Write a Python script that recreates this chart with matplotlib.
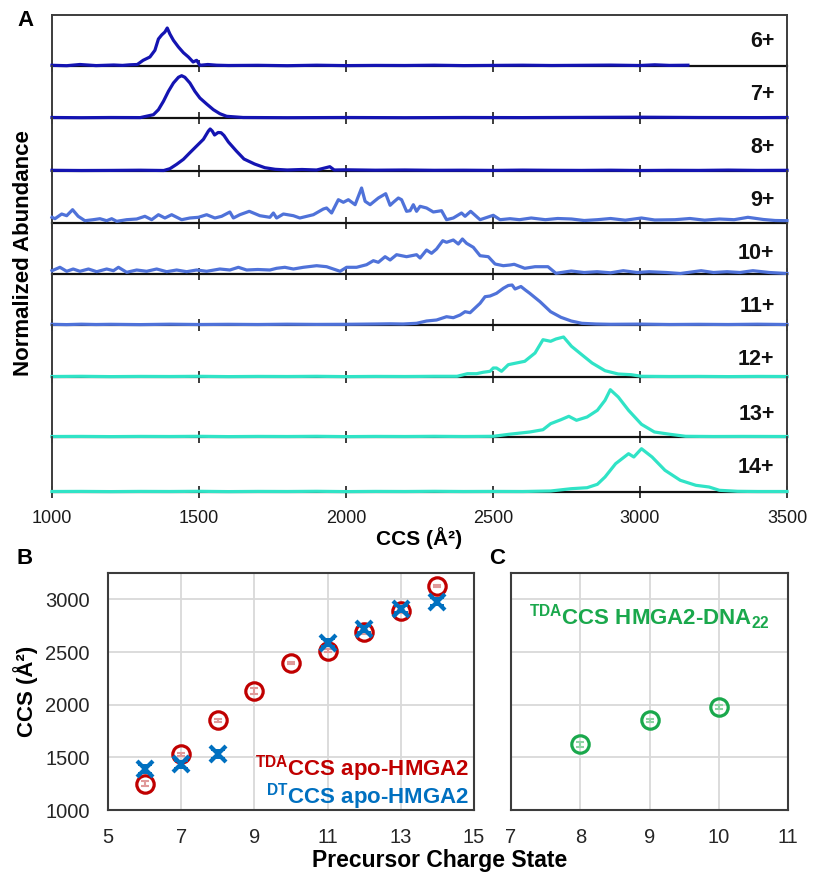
import matplotlib
matplotlib.use("Agg")
import matplotlib.pyplot as plt
import numpy as np

plt.rcParams['font.family'] = ['Liberation Sans', 'DejaVu Sans']
plt.rcParams['mathtext.fontset'] = 'custom'
plt.rcParams['mathtext.rm'] = 'Liberation Sans'
plt.rcParams['mathtext.bf'] = 'Liberation Sans:bold'

# ---------------- Panel A data (CCS in A^2, abundance in arbitrary read units) ----------------
charge_labels = ['6+', '7+', '8+', '9+', '10+', '11+', '12+', '13+', '14+']

ccs_6 = [1000, 1050, 1095, 1150, 1210, 1240, 1265, 1290, 1310, 1333, 1350, 1362, 1373, 1384, 1392, 1401,
         1413, 1430, 1447, 1464, 1480, 1492, 1503, 1530, 1560, 1600, 1700, 1800, 1900, 2000, 2100, 2200,
         2300, 2400, 2500, 2600, 2700, 2800, 2900, 3000, 3050, 3100, 3163]
ab_6 = [0.7, 0.3, 1.5, 0.4, 1.0, 0.6, 1.2, 1.5, 5.7, 9, 15.7, 27, 31, 34, 38, 32,
        25.7, 19, 13.3, 9, 4, 5.7, 0.7, 1.5, 0.8, 0.5, 0.7, 0.3, 0.8, 0.4, 0.6, 0.5,
        0.8, 0.4, 0.6, 0.8, 0.5, 0.7, 0.9, 0.5, 1.2, 0.6, 0.8]

ccs_7 = [1000, 1100, 1200, 1300, 1345, 1362, 1379, 1396, 1413, 1430, 1441, 1452, 1469, 1486, 1503, 1526,
         1549, 1571, 1594, 1650, 1800, 2000, 2200, 2400, 2600, 2800, 3000, 3200, 3400, 3500]
ab_7 = [0.5, 0.3, 0.5, 0.4, 3.3, 8.3, 16.7, 26.7, 35, 40.7, 42.3, 40.7, 35, 26.7, 20, 14,
        8.3, 4.3, 1.7, 0.5, 0.3, 0.5, 0.3, 0.5, 0.4, 0.6, 0.8, 0.5, 0.4, 0.5]

ccs_8 = [1000, 1100, 1200, 1300, 1380, 1401, 1424, 1447, 1469, 1492, 1515, 1532, 1538, 1545, 1553, 1565,
         1575, 1585, 1600, 1627, 1653, 1689, 1724, 1759, 1800, 1850, 1900, 1945, 1960, 2000, 2100, 2200,
         2300, 2400, 2500, 2600, 2700, 2800, 2900, 3000, 3100, 3200, 3300, 3400, 3500]
ab_8 = [0.7, 0.5, 0.6, 0.8, 0.5, 2.3, 6.7, 11.7, 18.3, 25, 31.7, 40, 42, 40, 36, 38.5,
        38.3, 35.5, 29, 20, 12, 7, 3.3, 1.7, 1, 1.5, 1, 4.3, 1, 1.2, 0.8, 1,
        0.7, 0.8, 0.6, 0.9, 0.7, 0.6, 0.8, 0.5, 0.7, 0.6, 0.9, 0.6, 0.7]

ccs_9 = [1000, 1010, 1033, 1050, 1070, 1089, 1112, 1140, 1163, 1186, 1203, 1220, 1254, 1288, 1316, 1339,
         1362, 1384, 1407, 1441, 1469, 1498, 1526, 1554, 1577, 1605, 1617, 1639, 1671, 1707, 1741, 1753,
         1764, 1787, 1821, 1843, 1889, 1923, 1934, 1951, 1974, 1991, 2008, 2031, 2053, 2065, 2082, 2110,
         2135, 2150, 2161, 2178, 2189, 2206, 2218, 2229, 2240, 2252, 2274, 2297, 2325, 2342, 2365, 2393,
         2405, 2424, 2456, 2501, 2524, 2558, 2590, 2630, 2678, 2720, 2767, 2810, 2855, 2900, 2950, 3005,
         3050, 3119, 3170, 3220, 3270, 3320, 3367, 3420, 3460, 3500]
ab_9 = [5.7, 4.3, 9, 7.3, 13.3, 6.7, 2.3, 3.3, 4.3, 2.3, 4.3, 1.7, 3.3, 4, 6.7, 3.3,
        8.3, 5, 8.3, 3.3, 5, 5.7, 8.3, 5, 6.7, 11, 5, 8.3, 11.7, 7.3, 5.7, 10,
        5, 9, 7.3, 5, 8.3, 14, 15, 10, 23.3, 20.7, 23.3, 18.3, 35, 21.7, 18.3, 25,
        29.3, 17.7, 20.7, 25, 23.3, 11.7, 12.3, 18.3, 11.7, 16.7, 15, 11, 12.3, 3.3, 5, 10,
        6.7, 11.7, 3.3, 7.7, 3.3, 4.3, 3.3, 5, 3.3, 4.5, 4, 2.5, 3.3, 4.5, 2.8, 5,
        3, 3.3, 4.5, 2.8, 4, 3.3, 5.7, 3.5, 2.5, 2.3]

ccs_10 = [1000, 1027, 1050, 1072, 1095, 1124, 1152, 1186, 1209, 1226, 1254, 1288, 1322, 1356, 1390, 1424,
          1458, 1492, 1526, 1571, 1605, 1634, 1662, 1700, 1741, 1764, 1792, 1821, 1855, 1900, 1934, 1980,
          2002, 2036, 2070, 2093, 2110, 2133, 2150, 2172, 2206, 2240, 2252, 2274, 2291, 2308, 2329, 2342,
          2365, 2382, 2396, 2410, 2433, 2456, 2484, 2507, 2535, 2558, 2572, 2608, 2643, 2687, 2714, 2766,
          2810, 2854, 2900, 2943, 2990, 3031, 3090, 3137, 3208, 3250, 3296, 3340, 3384, 3440, 3500]
ab_10 = [3.3, 6.7, 2.7, 5, 2.7, 5, 2.3, 5, 3.3, 6.7, 1.7, 4, 2.7, 5, 2.3, 4,
         2.3, 4, 2.7, 5, 4, 6.7, 4, 4.5, 4, 5.7, 6.7, 5, 6.7, 8.3, 7.3, 2.7,
         6.7, 6.7, 9.3, 13.3, 11.7, 17.3, 14, 19.3, 17.3, 19.3, 16, 24, 20.7, 25, 33.3, 31.7,
         34, 30, 35, 30.7, 26.7, 18.3, 17.3, 10, 8.3, 9, 9.7, 5.7, 7.3, 7.3, 0.7, 3,
         1.5, 2.3, 1.2, 3.3, 1.5, 2.3, 1.5, 0.5, 3.3, 1.5, 2.3, 1.5, 3.3, 1.5, 0.5]

ccs_11 = [1000, 1050, 1100, 1150, 1200, 1300, 1400, 1500, 1600, 1700, 1800, 1900, 2000, 2100, 2150, 2194,
          2240, 2274, 2308, 2342, 2365, 2388, 2405, 2422, 2456, 2473, 2490, 2512, 2535, 2552, 2565, 2575,
          2595, 2610, 2625, 2660, 2696, 2731, 2766, 2802, 2850, 2900, 3000, 3100, 3200, 3300, 3400, 3500]
ab_11 = [0.7, 0.4, 0.8, 0.5, 0.7, 0.4, 0.8, 0.5, 0.7, 0.5, 0.8, 0.6, 0.7, 1.0, 1.2, 1,
         1.7, 4, 5, 8.3, 7.3, 10, 13.3, 12.3, 21.7, 28.3, 29, 31.7, 36.7, 39.5, 40, 36,
         38.5, 35, 31.7, 23.3, 13.3, 7.7, 4, 1.7, 1, 0.7, 0.9, 0.5, 0.7, 0.5, 0.8, 0.5]

ccs_12 = [1000, 1100, 1200, 1300, 1400, 1500, 1600, 1700, 1800, 1900, 2000, 2100, 2200, 2300, 2378, 2413,
          2444, 2466, 2490, 2501, 2512, 2529, 2552, 2563, 2608, 2643, 2670, 2696, 2714, 2740, 2767, 2802,
          2837, 2881, 2926, 2970, 3005, 3100, 3200, 3300, 3400, 3500]
ab_12 = [0.5, 0.7, 0.4, 0.6, 0.5, 0.7, 0.4, 0.6, 0.5, 0.7, 0.4, 0.6, 0.5, 0.7, 0.7, 3.3,
         3.3, 4.7, 5.7, 9, 9, 5.7, 12.3, 13, 15.7, 24, 37.3, 35.7, 38, 40, 30.7, 22.3,
         14, 6.3, 3, 2.3, 0.7, 0.5, 0.6, 0.4, 0.6, 0.5]

ccs_13 = [1000, 1100, 1200, 1300, 1400, 1500, 1600, 1700, 1800, 1900, 2000, 2100, 2200, 2300, 2400, 2501,
          2554, 2625, 2670, 2696, 2731, 2758, 2784, 2820, 2855, 2881, 2899, 2926, 2961, 3005, 3049, 3102,
          3155, 3250, 3350, 3500]
ab_13 = [0.5, 0.6, 0.4, 0.6, 0.5, 0.7, 0.4, 0.6, 0.5, 0.7, 0.4, 0.6, 0.5, 0.7, 0.5, 0.7,
         2.7, 5, 7.3, 13.3, 17.3, 20.7, 16.7, 20, 26.7, 36.7, 47.3, 40, 26.7, 12.7, 5, 2.7,
         0.7, 0.5, 0.6, 0.5]

ccs_14 = [1000, 1100, 1200, 1300, 1400, 1500, 1600, 1700, 1800, 1900, 2000, 2100, 2200, 2300, 2400, 2500,
          2600, 2696, 2766, 2820, 2855, 2881, 2917, 2961, 2979, 3005, 3041, 3085, 3137, 3190, 3235, 3270,
          3332, 3400, 3500]
ab_14 = [0.5, 0.6, 0.4, 0.6, 0.5, 0.7, 0.4, 0.6, 0.5, 0.7, 0.4, 0.6, 0.5, 0.7, 0.5, 0.6,
         0.5, 1, 3.3, 4.3, 7.7, 15, 28.3, 38.3, 35, 43.3, 35, 21.7, 11.7, 6.7, 5, 1.7,
         0.7, 0.5, 0.5]

spectra_ccs = [ccs_6, ccs_7, ccs_8, ccs_9, ccs_10, ccs_11, ccs_12, ccs_13, ccs_14]
spectra_ab = [ab_6, ab_7, ab_8, ab_9, ab_10, ab_11, ab_12, ab_13, ab_14]
a_xticks = [1000, 1500, 2000, 2500, 3000, 3500]

# ---------------- Panel B / C data ----------------
tda_z = [6, 7, 8, 9, 10, 11, 12, 13, 14]
tda_ccs = [1250, 1530, 1850, 2130, 2395, 2512, 2690, 2885, 3128]
tda_err = [25, 15, 10, 25, 10, 15, 15, 10, 10]

dt_z = [6, 7, 8, 11, 12, 13, 14]
dt_ccs = [1388, 1433, 1530, 2590, 2720, 2910, 2978]
dt_err = [40, 35, 35, 30, 30, 30, 30]

dna_z = [8, 9, 10]
dna_ccs = [1625, 1850, 1976]
dna_err = [25, 15, 20]

b_xticks = [5, 7, 9, 11, 13, 15]
c_xticks = [7, 8, 9, 10, 11]
bc_yticks = [1000, 1500, 2000, 2500, 3000]

# ---------------- Layout / style ----------------
W, H = 814, 876
fig = plt.figure(figsize=(W / 100, H / 100), dpi=100)

row_edges = [15, 66, 118, 171, 223, 274, 325, 377, 437, 492]
row_colors = ['#1414b2'] * 3 + ['#4f72d9'] * 3 + ['#30e3c6'] * 3
peak_px = [38, 42.3, 42, 35, 35, 40, 40, 47.3, 43.3]
label_frac = [0.49, 0.46, 0.45, 0.44, 0.41, 0.37, 0.34, 0.38, 0.45]
ax_left, ax_right = 52, 787
spine_col = '#3c3c3c'

for i in range(9):
    top, bot = row_edges[i], row_edges[i + 1]
    ax = fig.add_axes([ax_left / W, 1 - bot / H, (ax_right - ax_left) / W, (bot - top) / H])
    x = np.array(spectra_ccs[i], dtype=float)
    y = np.array(spectra_ab[i], dtype=float)
    y = y / y.max()
    ax.plot(x, y, color=row_colors[i], lw=2.3, zorder=3, clip_on=False,
            solid_joinstyle='round')
    ax.set_xlim(1000, 3500)
    ax.set_ylim(0, (bot - top) / peak_px[i])
    ax.set_yticks([])
    ax.set_xticks(a_xticks)
    ax.tick_params(axis='x', direction='inout', length=8, width=1.4, color=spine_col,
                   labelsize=13, pad=9, labelcolor='#1a1a1a')
    if i < 8:
        ax.tick_params(axis='x', labelbottom=False)
    for s in ['left', 'right']:
        ax.spines[s].set_color(spine_col)
        ax.spines[s].set_linewidth(1.4)
    ax.spines['bottom'].set_color('#111111')
    ax.spines['bottom'].set_linewidth(1.6)
    if i == 0:
        ax.spines['top'].set_color(spine_col)
        ax.spines['top'].set_linewidth(1.4)
    else:
        ax.spines['top'].set_visible(False)
    ax.patch.set_alpha(0)
    ax.text(0.983, label_frac[i], charge_labels[i], transform=ax.transAxes,
            ha='right', va='center', fontsize=15.5, fontweight='bold', color='#111111')

fig.text(25 / W, 1 - 20 / H, 'A', ha='center', va='center', fontsize=16, fontweight='bold')
fig.text(24 / W, 1 - 253 / H, 'Normalized Abundance', rotation=90, ha='center', va='center',
         fontsize=16, fontweight='bold')
fig.text(419 / W, 1 - 538 / H, 'CCS (Å²)', ha='center', va='center', fontsize=15, fontweight='bold')

# ---------------- Panels B and C ----------------
red = '#c00000'
blue = '#0070c0'
green = '#1aa84c'

def style_bc(ax, xticks, xlim, show_y):
    ax.set_xlim(*xlim)
    ax.set_ylim(1000, 3250)
    ax.set_xticks(xticks)
    ax.set_yticks(bc_yticks)
    ax.grid(True, color='#d9d9d9', lw=1.3)
    ax.set_axisbelow(True)
    ax.tick_params(length=0, labelsize=14.5, labelcolor='#262626', pad=13)
    if not show_y:
        ax.tick_params(axis='y', labelleft=False)
    for s in ax.spines.values():
        s.set_color(spine_col)
        s.set_linewidth(1.5)

axB = fig.add_axes([108 / W, 1 - 810 / H, 366 / W, 237 / H])
style_bc(axB, b_xticks, (5, 15), True)
axB.errorbar(tda_z, tda_ccs, yerr=tda_err, fmt='none', ecolor='#e09a9a', elinewidth=1.5,
             capsize=3, capthick=1.5, zorder=3)
axB.plot(tda_z, tda_ccs, 'o', ms=12.5, mfc='none', mec=red, mew=2.3, zorder=4)
axB.errorbar(dt_z, dt_ccs, yerr=dt_err, fmt='none', ecolor=blue, elinewidth=1.2,
             capsize=5, capthick=1.4, zorder=5)
axB.plot(dt_z, dt_ccs, 'x', color=blue, ms=12, mew=3, zorder=6)
axB.text(0.988, 0.173, r'$^{\mathbf{TDA}}$CCS apo-HMGA2', transform=axB.transAxes, ha='right',
         va='center', fontsize=16, fontweight='bold', color=red)
axB.text(0.988, 0.055, r'$^{\mathbf{DT}}$CCS apo-HMGA2', transform=axB.transAxes, ha='right',
         va='center', fontsize=16, fontweight='bold', color=blue)

axC = fig.add_axes([511 / W, 1 - 810 / H, 277 / W, 237 / H])
style_bc(axC, c_xticks, (7, 11), False)
axC.errorbar(dna_z, dna_ccs, yerr=dna_err, fmt='none', ecolor='#8fd3a4', elinewidth=1.5,
             capsize=3, capthick=1.5, zorder=3)
axC.plot(dna_z, dna_ccs, 'o', ms=12.5, mfc='none', mec=green, mew=2.3, zorder=4)
axC.text(0.50, 0.814, r'$^{\mathbf{TDA}}$CCS HMGA2-DNA$_{\mathbf{22}}$', transform=axC.transAxes,
         ha='center', va='center', fontsize=16, fontweight='bold', color=green)

fig.text(25 / W, 1 - 558 / H, 'B', ha='center', va='center', fontsize=16, fontweight='bold')
fig.text(497 / W, 1 - 558 / H, 'C', ha='center', va='center', fontsize=16, fontweight='bold')
fig.text(26 / W, 1 - 691 / H, 'CCS (Å²)', rotation=90, ha='center', va='center',
         fontsize=16, fontweight='bold')
fig.text(440 / W, 1 - 861 / H, 'Precursor Charge State', ha='center', va='center',
         fontsize=16.5, fontweight='bold')

fig.savefig('out.png', dpi=100, facecolor='white')
